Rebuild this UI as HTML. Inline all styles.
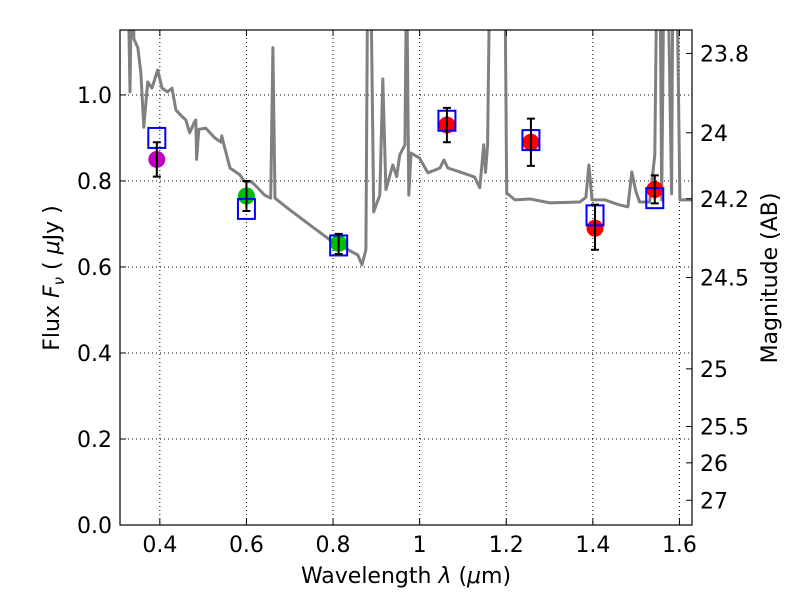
<!DOCTYPE html>
<html><head><meta charset="utf-8"><style>
body{margin:0;background:#fff}
svg text{font-family:"DejaVu Sans","Liberation Sans",sans-serif;font-size:22px;fill:#000}
</style></head><body>
<svg id="chart" width="800" height="600" xmlns="http://www.w3.org/2000/svg">
<g id="grid"></g>
<g id="spec"></g>
<g id="pts"></g>
<g id="axes"></g>
</svg>
<script>
const specW=[0.326,0.331,0.335,0.340,0.349,0.356,0.363,0.372,0.382,0.395,0.405,0.418,0.428,0.437,0.451,0.460,0.469,0.479,0.483,0.485,0.490,0.506,0.527,0.541,0.543,0.548,0.562,0.585,0.596,0.612,0.626,0.642,0.656,0.661,0.666,0.700,0.746,0.793,0.827,0.857,0.867,0.876,0.880,0.887,0.894,0.908,0.915,0.922,0.938,0.947,0.954,0.966,0.970,0.975,0.980,1.000,1.019,1.047,1.056,1.065,1.093,1.127,1.139,1.148,1.152,1.157,1.162,1.197,1.201,1.220,1.255,1.301,1.370,1.384,1.391,1.398,1.428,1.462,1.481,1.490,1.499,1.508,1.531,1.543,1.548,1.555,1.559,1.564,1.573,1.582,1.585,1.594,1.601,1.629];
const specF=[1.3,1.007,1.3,1.13,1.11,1.053,0.925,1.03,1.016,1.058,1.016,1.007,1.016,0.965,0.95,0.942,0.912,0.935,0.942,0.85,0.92,0.923,0.9,0.89,0.905,0.884,0.83,0.814,0.798,0.798,0.784,0.767,0.76,1.11,0.76,0.733,0.698,0.663,0.644,0.628,0.605,0.64,1.3,1.3,0.728,0.767,1.037,0.78,0.837,0.81,0.86,0.884,1.3,0.767,0.865,0.853,0.819,0.83,0.849,0.83,0.821,0.809,0.784,0.884,0.82,0.884,1.3,1.3,0.772,0.756,0.758,0.749,0.751,0.762,0.837,0.756,0.756,0.744,0.74,0.821,0.777,0.751,0.751,0.86,1.3,1.3,0.756,1.3,1.3,0.77,1.3,1.3,0.756,0.756];
const ptW=[0.393,0.600,0.813,1.063,1.257,1.405,1.543];
const ptF=[0.85,0.765,0.655,0.93,0.89,0.69,0.78];
const errHi=[0.89,0.80,0.677,0.97,0.945,0.745,0.813];
const errLo=[0.81,0.73,0.63,0.89,0.835,0.64,0.748];
const modelF=[0.90,0.735,0.65,0.94,0.895,0.72,0.76];
const ptColors=["#bf00bf","#00bf00","#00bf00","#ff0000","#ff0000","#ff0000","#ff0000"];
const xTicks=[0.4,0.6,0.8,1.0,1.2,1.4,1.6];
const xTickLabels=["0.4","0.6","0.8","1","1.2","1.4","1.6"];
const yTicks=[0,0.2,0.4,0.6,0.8,1.0];
const yTickLabels=["0.0","0.2","0.4","0.6","0.8","1.0"];
const magTicks=[23.8,24,24.2,24.5,25,25.5,26,27];
const magLabels=["23.8","24","24.2","24.5","25","25.5","26","27"];

const L=120,R=692,T=30,B=525,xmin=0.308,xmax=1.629,ymin=0,ymax=1.151;
const sx=v=>L+(v-xmin)/(xmax-xmin)*(R-L);
const sy=v=>B-(v-ymin)/(ymax-ymin)*(B-T);
const NS="http://www.w3.org/2000/svg";
function mk(tag,attrs,parent){const e=document.createElementNS(NS,tag);for(const k in attrs)e.setAttribute(k,attrs[k]);parent.appendChild(e);return e;}
const grid=document.getElementById('grid'),spec=document.getElementById('spec'),pts=document.getElementById('pts'),axes=document.getElementById('axes');
const svg=document.getElementById('chart');
const defs=mk('defs',{},svg);const cp=mk('clipPath',{id:'cp'},defs);mk('rect',{x:L,y:T,width:R-L,height:B-T},cp);
spec.setAttribute('clip-path','url(#cp)');
xTicks.forEach(v=>{const g=mk('line',{x1:sx(v),x2:sx(v),y1:T,y2:B,stroke:'#000','stroke-width':1,'stroke-dasharray':'1,3'},grid);

});
yTicks.forEach(v=>{const g=mk('line',{x1:L,x2:R,y1:sy(v),y2:sy(v),stroke:'#000','stroke-width':1,'stroke-dasharray':'1,3'},grid);

});
const d=specW.map((w,i)=>(i?'L':'M')+sx(w).toFixed(1)+','+sy(specF[i]).toFixed(1)).join('');
const sp=mk('path',{d:d,fill:'none',stroke:'#808080','stroke-width':3,'stroke-linejoin':'round'},spec);


ptW.forEach((w,i)=>{
 const x=sx(w);
 const c=mk('circle',{cx:x,cy:sy(ptF[i]),r:8.5,fill:ptColors[i]},pts);
 
 
 const b=mk('rect',{x:x-8.5,y:sy(modelF[i])-10,width:17,height:20,fill:'none',stroke:'#0000ff','stroke-width':2},pts);
 
 
 const e=mk('path',{d:`M${x},${sy(errHi[i])}V${sy(errLo[i])}M${x-4},${sy(errHi[i])}h8M${x-4},${sy(errLo[i])}h8`,stroke:'#000','stroke-width':2,fill:'none'},pts);
 
 
});
const fr=mk('rect',{x:L,y:T,width:R-L,height:B-T,fill:'none',stroke:'#000','stroke-width':1.2},axes);


xTicks.forEach((v,i)=>{
 mk('line',{x1:sx(v),x2:sx(v),y1:B,y2:B-6,stroke:'#000'},axes);
 mk('line',{x1:sx(v),x2:sx(v),y1:T,y2:T+6,stroke:'#000'},axes);
 const t=mk('text',{x:sx(v),y:B+27,'text-anchor':'middle'},axes);t.textContent=xTickLabels[i];
 
 
});
yTicks.forEach((v,i)=>{
 mk('line',{x1:L,x2:L+6,y1:sy(v),y2:sy(v),stroke:'#000'},axes);
 const t=mk('text',{x:L-8,y:sy(v)+8,'text-anchor':'end'},axes);t.textContent=yTickLabels[i];
 
 
});
magTicks.forEach((m,i)=>{
 const f=Math.pow(10,(23.9-m)/2.5);const y=sy(f);
 mk('line',{x1:R,x2:R-6,y1:y,y2:y,stroke:'#000'},axes);
 const t=mk('text',{x:R+8,y:y+8,'text-anchor':'start'},axes);t.textContent=magLabels[i];
 
 
});
</script>
<svg style="position:absolute;left:0;top:0" width="800" height="600" xmlns="http://www.w3.org/2000/svg">
<text x="406" y="583" text-anchor="middle">Wavelength  <tspan font-style="italic">λ</tspan> (<tspan font-style="italic">μ</tspan>m)</text>
<text transform="translate(59,278) rotate(-90)" text-anchor="middle">Flux  <tspan font-style="italic">F</tspan><tspan font-style="italic" font-size="15" dy="5">ν</tspan><tspan dy="-5">  ( </tspan><tspan font-style="italic">μ</tspan>Jy )</text>
<text transform="translate(777,278) rotate(-90)" text-anchor="middle">Magnitude (AB)</text>
</svg>
</body></html>
